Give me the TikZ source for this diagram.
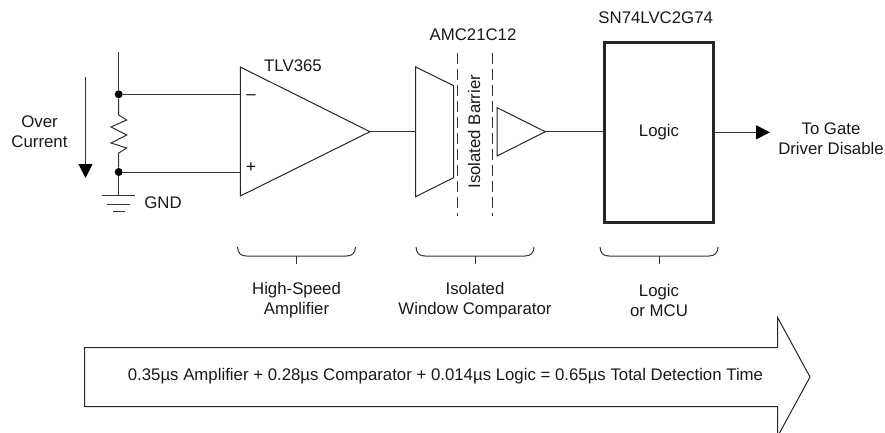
\documentclass[tikz,border=0pt]{standalone}
\usepackage{fontspec}
\setmainfont{Liberation Sans}
\usetikzlibrary{arrows.meta}
\tikzset{
  wire/.style={line width=.75pt,black!80},
  dot/.style={circle,fill=black,inner sep=0pt,minimum size=6pt},
  lbl/.style={inner sep=0pt,align=center,font=\fontsize{12.6}{15}\selectfont,text=black!90},
  sign/.style={inner sep=0pt,font=\fontsize{12.6}{14}\selectfont},
  shape line/.style={line width=.75pt,black!85,line join=miter},
  brace line/.style={line width=.75pt,black!80},
  tip/.style={-{Triangle[length=10.5pt,width=10.5pt,color=black]}}
}
\begin{document}
\begin{tikzpicture}[x=.75pt,y=-.75pt]
\useasboundingbox (0,0) rectangle (885,432);
% shunt
\coordinate (rail) at (118.7,52);
\coordinate (gndtop) at (118.7,195);
\node[dot] (top) at (118.7,94.3) {};
\node[dot] (bot) at (118.7,172) {};
\draw[wire] (rail) -- (top);
\draw[wire] (top) -- (118.7,115) -- (126.7,120) -- (111,127) -- (126.7,135) -- (111,143) -- (126.7,148) -- (118.7,153) -- (bot);
\draw[wire] (bot) -- (gndtop);
\draw[wire] (102,195) -- (135,195);
\draw[wire] (107,204) -- (130,204);
\draw[wire] (113,211) -- (125,211);
\node[lbl] (gnd) at (163,203) {GND};
\coordinate (ovtop) at (85.5,77);
\coordinate (ovend) at (85.5,178);
\draw[wire,tip] (ovtop) -- (ovend);
\node[lbl] (over) at (39.5,132) {Over\\Current};
% amplifier
\coordinate (ampa) at (240.3,67);
\coordinate (ampb) at (240.3,196);
\coordinate (ampout) at (370,131.7);
\draw[shape line] (ampa) -- (ampout) -- (ampb) -- cycle;
\draw[wire] (top) -- (top -| ampa);
\draw[wire] (bot) -- (bot -| ampa);
\node[sign] (minus) at (251,97) {--};
\node[sign] (plus) at (251,168) {+};
\node[lbl] (amp) at (293,66) {TLV365};
% comparator
\coordinate (cmpin) at (415.7,131.7);
\draw[shape line] (415.7,67) -- (453.7,85.7) -- (453.7,177.7) -- (415.7,196.7) -- cycle;
\draw[wire] (ampout) -- (cmpin);
\foreach \x in {457.7,492.7} {
  \draw[wire,dash pattern=on 8.5pt off 3.5pt] (\x,52.7) -- (\x,215.7);
}
\node[lbl,rotate=90] (barrier) at (474,131.7) {Isolated Barrier};
\node[lbl] (cmp) at (473,34.5) {AMC21C12};
\coordinate (bufout) at (545.3,131.7);
\draw[shape line] (497,107.7) -- (bufout) -- (497,156) -- cycle;
% logic
\node[draw,line width=1.9pt,black!85,minimum width=81.5pt,minimum height=135pt,inner sep=0pt] (logic) at (659,132.3) {};
\node[lbl] (logictxt) at (logic) {Logic};
\node[lbl] (part) at (655.7,18) {SN74LVC2G74};
\draw[wire] (bufout) -- (logic.west |- bufout);
\coordinate (gateend) at (770,132.3);
\draw[wire,tip] (logic.east) -- (gateend);
\node[lbl] (gate) at (831,139) {To Gate\\Driver Disable};
% braces
\foreach \x/\n/\t in {296.5/ampb/High-Speed\\Amplifier,475/cmpb/Isolated\\Window Comparator,659/logb/Logic\\or MCU} {
  \draw[brace line] (\x-59,247) .. controls (\x-58.5,253) and (\x-56,256) .. (\x-50,256) -- (\x+50,256) .. controls (\x+56,256) and (\x+58.5,253) .. (\x+59,247);
  \draw[brace line] (\x,256) -- (\x,264);
  \node[lbl] (\n) at (\x,300) {\t};
}
% timing arrow
\draw[shape line] (84.7,347.7) -- (777.7,347.7) -- (777.7,317.7) -- (810,377) -- (777.7,436.3) -- (777.7,406.7) -- (84.7,406.7) -- cycle;
\node[lbl] (total) at (445.5,376) {0.35µs Amplifier + 0.28µs Comparator + 0.014µs Logic = 0.65µs Total Detection Time};
\end{tikzpicture}
\end{document}
